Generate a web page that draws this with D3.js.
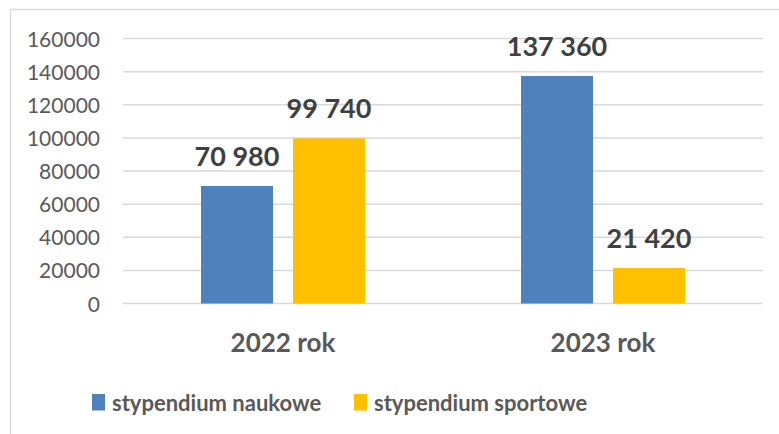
<!DOCTYPE html>
<html>
<head>
<meta charset="utf-8">
<script src="https://cdn.jsdelivr.net/npm/d3@7"></script>
<style>
  html, body { margin: 0; padding: 0; background: #fff; }
  svg { display: block; }
  text { font-family: Lato, "Open Sans", sans-serif; }
</style>
</head>
<body>
<svg id="chart" width="779" height="434"></svg>
<script>
const categories = ["2022 rok", "2023 rok"];
const seriesNames = ["stypendium naukowe", "stypendium sportowe"];
const naukowe = [70980, 137360];
const sportowe = [99740, 21420];
const yTicks = [0, 20000, 40000, 60000, 80000, 100000, 120000, 140000, 160000];
const colors = ["#4F81BD", "#FFC000"];

const svg = d3.select("#chart");
const W = 779, H = 434;
const plot = { left: 123, right: 763, top: 38.5, bottom: 303.5 };

svg.append("rect").attr("x", 10.5).attr("y", 9.5).attr("width", W + 10).attr("height", H + 10)
  .attr("fill", "#fff").attr("stroke", "#D9D9D9").attr("stroke-width", 1.5);

const x = d3.scaleBand().domain(categories).range([plot.left, plot.right]).paddingInner(0).paddingOuter(0);
const y = d3.scaleLinear().domain([0, 160000]).range([plot.bottom, plot.top]);

// gridlines
svg.append("g").selectAll("line").data(yTicks).join("line")
  .attr("x1", plot.left).attr("x2", plot.right)
  .attr("y1", d => y(d)).attr("y2", d => y(d))
  .attr("stroke", "#D9D9D9").attr("stroke-width", 1.5);

// y axis labels
const yAxis = d3.axisLeft(y).tickValues(yTicks).tickSize(0).tickPadding(0).tickFormat(d3.format("d"));
const ya = svg.append("g").attr("transform", "translate(100,0)").call(yAxis);
ya.select(".domain").remove();
ya.selectAll("text").attr("fill", "#595959").style("font-size", "21px").style("font-family", "Lato, sans-serif").attr("dy", "0.36em");

// bars
const x1 = d3.scaleBand().domain(seriesNames).range([0, x.bandwidth()]).paddingInner(0.217).paddingOuter(0.848);
const series = [naukowe, sportowe];
const fmt = v => d3.format(",")(v).replace(/,/g, " ");

series.forEach((vals, si) => {
  const g = svg.append("g");
  g.selectAll("rect").data(vals).join("rect")
    .attr("x", (d, i) => x(categories[i]) + x1(seriesNames[si]))
    .attr("y", d => y(d))
    .attr("width", x1.bandwidth())
    .attr("height", d => y(0) - y(d))
    .attr("fill", colors[si]);
  g.selectAll("text").data(vals).join("text")
    .attr("x", (d, i) => x(categories[i]) + x1(seriesNames[si]) + x1.bandwidth() / 2)
    .attr("y", d => y(d) - 20)
    .attr("text-anchor", "middle")
    .attr("fill", "#404040")
    .style("font-size", "27px").style("font-weight", "bold")
    .text(fmt);
});

// category labels
const xAxis = d3.axisBottom(x).tickSize(0).tickPadding(0);
const xa = svg.append("g").attr("transform", "translate(0,352)").call(xAxis);
xa.select(".domain").remove();
xa.selectAll("text").attr("fill", "#595959").attr("dy", 0)
  .style("font-size", "26px").style("font-weight", "bold").style("font-family", "Lato, sans-serif");

// legend
const legendX = [92, 354];
const lg = svg.append("g");
seriesNames.forEach((n, i) => {
  lg.append("rect").attr("x", legendX[i]).attr("y", 394).attr("width", 13).attr("height", 16.5).attr("fill", colors[i]);
  lg.append("text").attr("x", legendX[i] + 20).attr("y", 410.5).attr("fill", "#595959")
    .style("font-size", "22px").style("font-weight", "bold").text(n);
});
</script>
</body>
</html>
